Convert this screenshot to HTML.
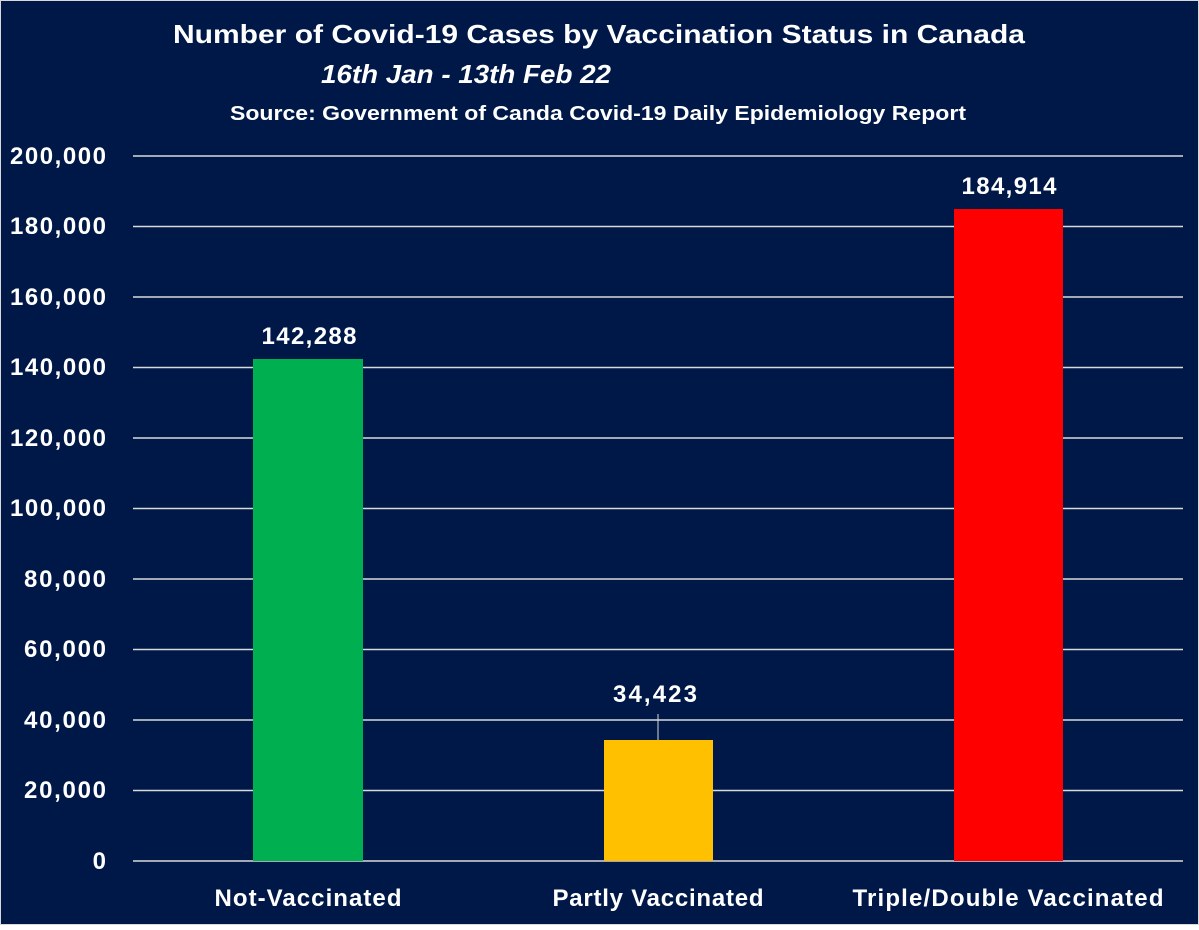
<!DOCTYPE html>
<html><head><style>
body{margin:0;background:#fff}
svg text{font-family:"Liberation Sans",sans-serif;font-weight:bold;fill:#fff}
</style></head><body>
<svg width="1199" height="925" xmlns="http://www.w3.org/2000/svg">
<rect x="0" y="0" width="1199" height="925" fill="#d9d9d9"/>
<rect x="1" y="1" width="1197" height="923" fill="#001848"/>
<text x="599" y="43" font-size="26" text-anchor="middle" textLength="852" lengthAdjust="spacingAndGlyphs">Number of Covid-19 Cases by Vaccination Status in Canada</text>
<text x="466" y="83" font-size="26" font-style="italic" text-anchor="middle" textLength="290" lengthAdjust="spacingAndGlyphs">16th Jan - 13th Feb 22</text>
<text x="598" y="120" font-size="20" text-anchor="middle" textLength="736" lengthAdjust="spacingAndGlyphs">Source: Government of Canda Covid-19 Daily Epidemiology Report</text>
<g stroke="#d9d9d9" stroke-width="1.5">
<line x1="133" x2="1183" y1="156" y2="156"/>
<line x1="133" x2="1183" y1="226.5" y2="226.5"/>
<line x1="133" x2="1183" y1="297" y2="297"/>
<line x1="133" x2="1183" y1="367.5" y2="367.5"/>
<line x1="133" x2="1183" y1="438" y2="438"/>
<line x1="133" x2="1183" y1="508.5" y2="508.5"/>
<line x1="133" x2="1183" y1="579" y2="579"/>
<line x1="133" x2="1183" y1="649.5" y2="649.5"/>
<line x1="133" x2="1183" y1="720" y2="720"/>
<line x1="133" x2="1183" y1="790.5" y2="790.5"/>
<line x1="133" x2="1183" y1="861" y2="861"/>
</g>
<g font-size="24" text-anchor="end" lengthAdjust="spacingAndGlyphs">
<text x="106" y="164" textLength="96">200,000</text>
<text x="106" y="234" textLength="96">180,000</text>
<text x="106" y="305" textLength="96">160,000</text>
<text x="106" y="375" textLength="96">140,000</text>
<text x="106" y="446" textLength="96">120,000</text>
<text x="106" y="516" textLength="96">100,000</text>
<text x="106" y="587" textLength="82">80,000</text>
<text x="106" y="657" textLength="82">60,000</text>
<text x="106" y="728" textLength="82">40,000</text>
<text x="106" y="798" textLength="82">20,000</text>
<text x="106" y="869">0</text>
</g>
<rect x="253" y="359" width="110" height="502" fill="#00b050"/>
<rect x="604" y="740" width="109" height="121" fill="#ffc000"/>
<rect x="954" y="209" width="109" height="652" fill="#ff0000"/>
<line x1="658" y1="714" x2="658" y2="740" stroke="#d9d9d9" stroke-width="1"/>
<g font-size="24" text-anchor="middle" lengthAdjust="spacingAndGlyphs">
<text x="309" y="344" textLength="95">142,288</text>
<text x="655" y="702" textLength="84">34,423</text>
<text x="1009" y="194" textLength="95">184,914</text>
<text x="308" y="906" textLength="187">Not-Vaccinated</text>
<text x="658" y="906" textLength="211">Partly Vaccinated</text>
<text x="1008" y="906" textLength="311">Triple/Double Vaccinated</text>
</g>
</svg>
</body></html>
